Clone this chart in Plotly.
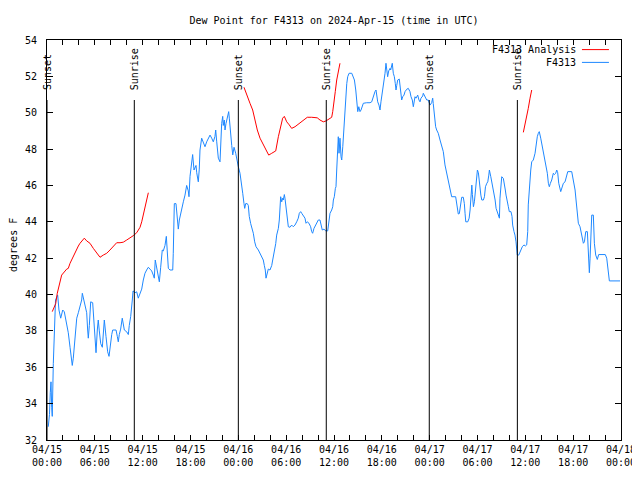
import pandas as pd
import plotly.graph_objects as go

BASE = pd.Timestamp("2024-04-15 00:00")

# F4313 observations: hours after 2024-04-15 00:00 UTC, dew point (F)
obs_hours = [0.16, 0.31, 0.41, 0.5, 0.59, 0.66, 0.79, 0.92, 1.07, 1.34, 1.5, 1.72, 1.84, 1.97, 2.17,
             2.47, 2.67, 2.89, 3.1, 3.17, 3.3, 3.51, 3.73, 3.93, 4.14, 4.35, 4.43, 4.55, 4.77, 4.98,
             5.1, 5.18, 5.31, 5.39, 5.48, 5.73, 5.81, 5.93, 6.15, 6.31, 6.43, 6.56, 6.74, 6.94, 7.06,
             7.19, 7.4, 7.61, 7.78, 7.9, 8.12, 8.24, 8.66, 8.82, 8.94, 9.07, 9.24, 9.44, 9.57, 9.7,
             10.0, 10.2, 10.32, 10.5, 10.7, 10.79, 11.04, 11.25, 11.45, 11.67, 11.88, 12.08, 12.29,
             12.5, 12.71, 12.92, 13.13, 13.33, 13.46, 13.58, 13.76, 13.96, 14.09, 14.26, 14.46, 14.59,
             14.8, 14.97, 15.09, 15.22, 15.43, 15.77, 15.84, 15.97, 16.18, 16.35, 16.47, 16.6, 16.77,
             16.9, 17.1, 17.31, 17.44, 17.52, 17.72, 17.81, 17.94, 18.15, 18.27, 18.44, 18.69, 18.78,
             18.98, 19.1, 19.19, 19.4, 19.61, 19.82, 20.03, 20.23, 20.45, 20.66, 20.86, 21.07, 21.16,
             21.29, 21.49, 21.7, 21.79, 21.91, 22.04, 22.11, 22.24, 22.33, 22.45, 22.67, 22.79, 22.87,
             22.96, 23.04, 23.17, 23.3, 23.46, 23.67, 23.8, 24.0, 24.21, 24.42, 24.55, 24.71, 24.8,
             24.92, 25.12, 25.25, 25.37, 25.55, 25.71, 25.88, 26.05, 26.22, 26.51, 26.72, 26.93,
             27.13, 27.26, 27.38, 27.47, 27.64, 27.76, 27.97, 28.19, 28.31, 28.51, 28.69, 28.81,
             29.02, 29.14, 29.23, 29.31, 29.44, 29.56, 29.64, 29.77, 29.85, 29.98, 30.07, 30.27,
             30.48, 30.69, 30.89, 31.1, 31.32, 31.52, 31.65, 31.82, 31.95, 32.15, 32.36, 32.49,
             32.65, 32.86, 33.07, 33.2, 33.32, 33.49, 33.66, 33.83, 34.03, 34.24, 34.37, 34.53,
             34.75, 34.96, 35.21, 35.37, 35.5, 35.71, 35.84, 35.92, 36.04, 36.17, 36.25, 36.34,
             36.41, 36.54, 36.63, 36.75, 36.88, 36.97, 37.1, 37.17, 37.3, 37.38, 37.51, 37.6, 37.72,
             37.89, 38.23, 38.43, 38.56, 38.73, 38.86, 38.98, 39.11, 39.26, 39.39, 39.55, 39.68,
             40.1, 40.52, 40.73, 40.86, 41.02, 41.14, 41.27, 41.36, 41.48, 41.64, 41.77, 41.89,
             41.98, 42.11, 42.27, 42.4, 42.52, 42.61, 42.73, 42.86, 43.03, 43.11, 43.24, 43.31,
             43.44, 43.57, 43.69, 43.78, 43.87, 43.99, 44.19, 44.28, 44.37, 44.49, 44.62, 44.78,
             44.91, 45.12, 45.32, 45.53, 45.66, 45.82, 45.95, 46.07, 46.16, 46.29, 46.5, 46.66,
             46.79, 46.91, 47.13, 47.2, 47.42, 47.63, 47.83, 48.04, 48.25, 48.38, 48.45, 48.58,
             48.75, 48.88, 49.08, 49.3, 49.51, 49.71, 49.92, 50.13, 50.26, 50.46, 50.64, 50.76,
             51.26, 51.39, 51.47, 51.59, 51.72, 51.81, 51.93, 52.02, 52.22, 52.35, 52.44, 52.53,
             52.78, 52.95, 53.07, 53.16, 53.29, 53.36, 53.49, 53.61, 53.7, 53.83, 53.91, 53.99,
             54.11, 54.24, 54.42, 54.54, 54.74, 54.87, 55.0, 55.17, 55.29, 55.42, 55.49, 55.67,
             55.8, 55.92, 56.08, 56.21, 56.33, 56.5, 56.63, 56.75, 56.82, 56.95, 57.04, 57.24,
             57.37, 57.49, 57.58, 57.74, 57.87, 57.99, 58.2, 58.33, 58.41, 58.58, 58.7, 58.83,
             58.92, 58.99, 59.17, 59.33, 59.46, 59.62, 59.83, 60.0, 60.17, 60.3, 60.37, 60.5,
             60.68, 60.8, 61.0, 61.22, 61.34, 61.5, 61.63, 61.75, 61.93, 62.09, 62.26, 62.43,
             62.6, 62.76, 62.89, 63.01, 63.14, 63.31, 63.51, 63.64, 63.81, 63.94, 64.06, 64.19,
             64.44, 64.57, 64.77, 64.98, 65.19, 65.32, 65.82, 65.95, 66.11, 66.24, 66.36, 66.53,
             66.65, 66.86, 66.99, 67.11, 67.28, 67.41, 67.58, 67.78, 67.91, 68.03, 68.12, 68.2,
             68.33, 68.53, 68.66, 68.83, 69.03, 69.2, 69.37, 70.03, 70.21, 70.33, 70.46, 70.54,
             71.88]
obs_dewpt = [32.73, 33.4, 34.6, 35.2, 33.8, 33.3, 36.2, 37.9, 39.7, 39.97, 39.15, 38.7, 39.0, 39.15, 39.05,
             38.3, 37.9, 37.1, 36.2, 36.1, 36.5, 37.5, 38.7, 39.0, 39.3, 39.7, 40.07, 39.8, 39.5, 39.0,
             38.05, 37.6, 38.3, 39.05, 39.6, 39.55, 39.1, 38.2, 36.8, 38.05, 38.6, 38.0, 37.3, 37.1, 37.8,
             38.6, 37.7, 36.85, 36.6, 37.1, 37.8, 38.05, 38.05, 37.7, 37.4, 37.8, 38.1, 38.7, 38.3, 38.05,
             37.95, 37.8, 38.3, 38.8, 39.7, 40.2, 40.1, 40.15, 39.8, 40.1, 40.3, 40.8, 41.17,
             41.35, 41.5, 41.4, 41.3, 41.07, 40.9, 41.9, 41.5, 41.0, 40.7, 41.5, 42.45, 42.4,
             42.7, 43.2, 42.1, 41.44, 41.35, 41.35, 42.27, 45.0, 45.0, 44.1, 43.6, 44.1, 44.47,
             44.83, 45.1, 45.47, 45.84, 46.0, 45.7, 45.38, 46.5, 47.2, 47.7, 46.85, 47.1, 46.7,
             46.2, 46.9, 47.95, 48.6, 48.3, 48.13, 48.4, 48.6, 48.77, 48.6, 48.4, 48.7, 49.05,
             48.4, 47.5, 47.3, 48.5, 49.4, 49.8, 49.3, 49.6, 49.05, 49.4, 49.88, 50.06, 49.7,
             49.14, 48.5, 48.2, 47.68, 48.1, 47.77, 47.4, 47.03, 46.67, 46.12, 45.57, 45.0, 44.74,
             45.0, 45.0, 44.9, 44.3, 43.9, 43.64, 43.37, 42.9, 42.63, 42.45, 42.27, 42.1,
             41.9, 41.6, 41.35, 40.9, 41.17, 41.4, 41.35, 41.6, 41.9, 42.36, 42.8, 43.27,
             43.64, 44.1, 45.0, 45.38, 45.1, 45.3, 45.2, 45.5, 45.3, 44.83, 44.37, 43.73,
             43.7, 43.82, 43.73, 43.82, 44.0, 44.2, 44.47, 44.56, 44.47, 44.3, 44.2, 43.92,
             44.0, 43.92, 43.73, 43.46, 43.37, 43.64, 43.76, 43.92, 44.1, 44.1, 43.82, 43.55,
             43.6, 43.5, 43.5, 43.92, 44.47, 44.65, 44.83, 45.2, 45.38, 45.84, 45.93, 46.85,
             47.95, 48.68, 47.77, 48.6, 47.58, 47.4, 48.13, 48.68, 49.4, 49.97, 51.25, 51.6, 51.98,
             52.17, 52.17, 51.98, 51.8, 51.25, 50.33, 50.06, 50.33, 50.06, 50.15, 50.33, 50.52,
             50.55, 50.55, 50.6, 50.8, 51.07, 51.16, 51.25, 50.97, 50.6, 50.42, 50.15, 50.6,
             50.88, 51.16, 51.6, 52.17, 52.72, 52.44, 51.98, 52.3, 52.44, 52.35, 52.53, 52.72,
             52.17, 51.98, 51.6, 51.25, 51.5, 51.8, 51.85, 51.5, 50.97, 50.7, 50.88, 50.97,
             51.16, 51.29, 51.34, 51.16, 50.88, 50.7, 50.33, 50.7, 50.88, 50.8, 50.97, 50.7,
             50.6, 50.8, 50.92, 51.07, 50.88, 50.7, 50.7, 50.42, 50.55, 50.8, 50.5, 49.7,
             49.23, 49.05, 48.87, 48.5, 48.13, 47.86, 47.13, 46.67, 46.48, 46.02, 45.66, 45.38,
             45.38, 45.0, 44.65, 44.43, 44.45, 44.74, 45.1, 45.35, 45.35, 45.0, 44.47, 44.0,
             44.0, 44.2, 44.65, 45.2, 46.02, 45.5, 44.83, 45.1, 45.57, 46.12, 46.57, 46.85,
             46.7, 46.02, 45.47, 45.2, 45.2, 45.38, 45.93, 46.12, 46.2, 46.57, 46.85, 46.48,
             46.2, 46.02, 45.66, 45.2, 44.74, 44.47, 44.3, 44.2, 45.3, 46.39, 46.48, 46.39,
             46.12, 45.75, 45.47, 45.2, 44.83, 44.56, 44.56, 44.3, 43.82, 43.46, 43.27, 42.9,
             42.45, 42.17, 42.17, 42.36, 42.54, 42.63, 42.73, 42.67, 42.73, 43.46, 44.93, 46.02,
             46.85, 47.3, 47.4, 47.77, 48.22, 48.68, 48.87, 48.96, 48.6, 48.22, 47.95, 47.58,
             47.03, 46.67, 46.12, 45.93, 46.12, 46.3, 46.67, 46.6, 46.67, 46.85, 46.7, 46.12,
             45.66, 45.84, 46.12, 46.2, 46.57, 46.76, 46.76, 46.48, 46.02, 45.75, 45.2, 44.47,
             43.92, 43.73, 43.46, 43.1, 42.82, 42.9, 43.46, 43.46, 41.8, 41.2, 42.0, 43.55,
             44.37, 44.37, 42.82, 42.17, 41.93, 42.2, 42.2, 42.2, 42.0, 41.6, 41.26, 40.75,
             40.75]

# F4313 Analysis segments (hours after base, dew point F)
ana1_hours = [0.66, 1.09, 1.29, 1.63, 1.84, 2.47, 2.67, 2.89, 3.3, 3.51, 3.93, 4.14, 4.68, 4.98, 5.39,
              5.81, 6.23, 6.65, 7.06, 7.49, 7.9, 8.32, 8.74, 9.16, 9.57, 10.0, 10.41, 10.83, 11.25,
              11.67, 11.88, 12.08, 12.29, 12.5, 12.71]
ana1_dewpt = [39.06, 39.5, 40.07, 40.6, 41.07, 41.4, 41.44, 41.72, 42.1, 42.36, 42.67, 42.82, 43.1, 42.95,
              42.82, 42.54, 42.27, 42.05, 42.17, 42.27, 42.45, 42.67, 42.85, 42.85, 42.88, 43.0, 43.1,
              43.24, 43.4, 43.7, 44.0, 44.37, 44.93, 45.2, 45.6]
ana2_hours = [24.71, 25.05, 25.46, 25.8, 26.09, 26.38, 26.72, 27.13, 27.47, 27.81, 28.19, 28.69, 29.02,
              29.31, 29.56, 29.77, 30.07, 30.39, 30.69, 31.11, 31.52, 31.95, 32.36, 32.65, 33.2, 33.62,
              33.9, 34.24, 34.66, 35.0, 35.29, 35.71, 35.84, 36.0, 36.16, 36.34, 36.54, 36.75]
ana2_dewpt = [51.4, 50.97, 50.52, 50.15, 49.6, 49.05, 48.6, 48.22, 47.95, 47.67, 47.77, 47.9, 48.68,
              49.33, 49.7, 49.8, 49.5, 49.33, 49.14, 49.23, 49.38, 49.5, 49.64, 49.75, 49.75, 49.75,
              49.72, 49.6, 49.5, 49.55, 49.64, 49.75, 50.06, 50.52, 51.16, 51.8, 52.35, 52.72]
ana3_hours = [59.75, 59.96, 60.17, 60.37, 60.59, 60.8]
ana3_dewpt = [48.92, 49.33, 49.88, 50.24, 50.8, 51.25]

# Sun events (hours after base)
sun_hours = [0.0, 10.95, 24.0, 35.03, 47.95, 59.0]
sun_labels = ["Sunset", "Sunrise", "Sunset", "Sunrise", "Sunset", "Sunrise"]

# axis ticks
x_tick_hours = list(range(0, 73, 2))
y_ticks = list(range(32, 55, 2))


def to_time(hours):
    return [None if h is None else BASE + pd.Timedelta(hours=h) for h in hours]


ana_hours = ana1_hours + [None] + ana2_hours + [None] + ana3_hours
ana_dewpt = ana1_dewpt + [None] + ana2_dewpt + [None] + ana3_dewpt

FONT = "DejaVu Sans Mono"
BLUE = "#1e88ff"
RED = "#ff0000"
TXT = dict(family=FONT, size=10, color="black")

fig = go.Figure()
fig.add_trace(go.Scatter(x=to_time(obs_hours), y=obs_dewpt, mode="lines", name="F4313",
                         line=dict(color=BLUE, width=1)))
fig.add_trace(go.Scatter(x=to_time(ana_hours), y=ana_dewpt, mode="lines", name="F4313 Analysis",
                         connectgaps=False, line=dict(color=RED, width=1)))

shapes = []
annotations = []
for h, lab in zip(sun_hours, sun_labels):
    t = BASE + pd.Timedelta(hours=h)
    shapes.append(dict(type="line", xref="x", yref="paper", x0=t, x1=t, y0=0, y1=0.85,
                       line=dict(color="black", width=1)))
    annotations.append(dict(x=t, y=0.87, xref="x", yref="paper", text=lab, textangle=-90,
                            showarrow=False, xanchor="center", yanchor="bottom", font=TXT))

# manual gnuplot-style legend (text left, sample right)
legend_items = [("F4313 Analysis", RED, 0.976), ("F4313", BLUE, 0.944)]
for text, col, yp in legend_items:
    annotations.append(dict(x=0.925, y=yp, xref="paper", yref="paper", text=text, showarrow=False,
                            xanchor="right", yanchor="middle", font=TXT))
    shapes.append(dict(type="line", xref="paper", yref="paper", x0=0.932, x1=0.979, y0=yp, y1=yp,
                       line=dict(color=col, width=1)))

# y-axis title
annotations.append(dict(x=-0.0575, y=0.4875, xref="paper", yref="paper", text="degrees F",
                        textangle=-90, showarrow=False, xanchor="center", yanchor="middle", font=TXT))

tickvals = to_time(x_tick_hours)
ticktext = []
for h in x_tick_hours:
    if h % 6 == 0:
        t = BASE + pd.Timedelta(hours=h)
        ticktext.append(t.strftime("%m/%d") + "<br>" + t.strftime("%H:%M"))
    else:
        ticktext.append("")

# page body has an 8px margin, so shift the plot area up/left by 8px
fig.update_layout(
    width=640, height=480,
    margin=dict(l=39, r=27, t=32, b=48, autoexpand=False),
    paper_bgcolor="white", plot_bgcolor="white",
    showlegend=False,
    title=dict(text="Dew Point for F4313 on 2024-Apr-15 (time in UTC)", x=0.5, xref="paper",
               y=1 - 12 / 480, yanchor="middle", font=TXT),
    font=TXT,
    shapes=shapes, annotations=annotations,
)
fig.update_xaxes(
    type="date", range=[BASE, BASE + pd.Timedelta(hours=72)],
    tickmode="array", tickvals=tickvals, ticktext=ticktext,
    ticks="inside", ticklen=5, tickcolor="black", tickwidth=1,
    showline=True, linecolor="black", linewidth=1, mirror="ticks",
    showgrid=False, zeroline=False, tickfont=TXT, automargin=False,
)
fig.update_yaxes(
    range=[32, 54], tickmode="array", tickvals=y_ticks, ticktext=[str(v) for v in y_ticks],
    ticks="inside", ticklen=6, tickcolor="black", tickwidth=1,
    showline=True, linecolor="black", linewidth=1, mirror="ticks",
    showgrid=False, zeroline=False, tickfont=TXT, automargin=False,
    ticklabelstandoff=7,
)

fig.write_html("out.html")
